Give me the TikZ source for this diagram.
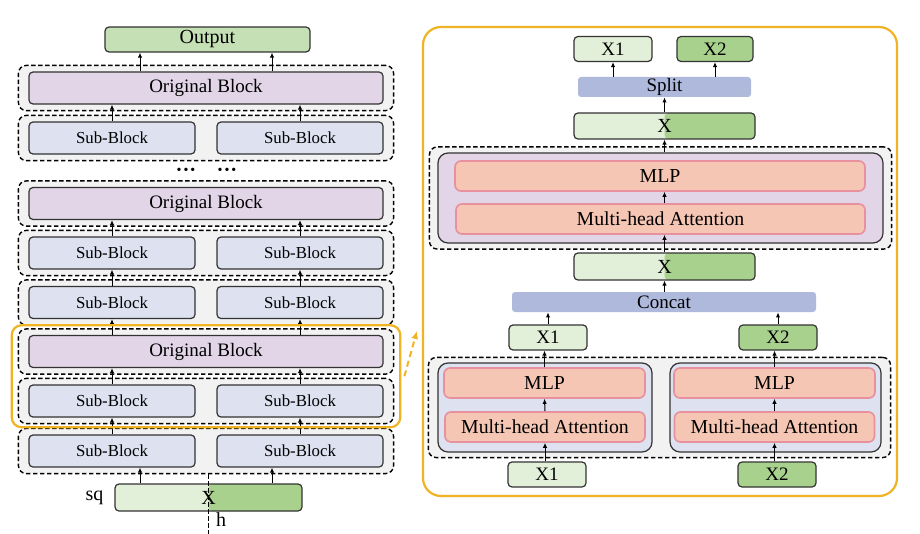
\documentclass[tikz,border=0pt]{standalone}
\usepackage{fontspec}
\setmainfont{Liberation Serif}
\usetikzlibrary{positioning,fit,backgrounds,arrows.meta,calc}

\definecolor{grayF}{HTML}{F2F2F2}
\definecolor{greenO}{HTML}{C5E0B4}
\definecolor{greenL}{HTML}{E2F0D9}
\definecolor{greenD}{HTML}{A9D18E}
\definecolor{blueL}{HTML}{DDE1F0}
\definecolor{purpleL}{HTML}{E1D5E7}
\definecolor{salmon}{HTML}{F5C6B4}
\definecolor{pinkB}{HTML}{E8909E}
\definecolor{barC}{HTML}{AEB9DC}
\definecolor{orng}{HTML}{F0B323}

\tikzset{
  box/.style={draw=black!80, line width=0.6pt, rounded corners=2pt, inner sep=0pt,
    font=\fontsize{9.5}{11}\selectfont},
  outbox/.style={box, fill=greenO, font=\fontsize{10}{12}\selectfont},
  orig/.style={box, fill=purpleL, minimum width=177pt, minimum height=16pt},
  sub/.style={box, fill=blueL, minimum width=83pt, minimum height=16pt,
    font=\fontsize{8.4}{10}\selectfont},
  xl/.style={box, fill=greenL, minimum width=39pt, minimum height=12.5pt},
  xd/.style={box, fill=greenD, minimum width=39pt, minimum height=12.5pt},
  xsplit/.style={box, fill=greenL, font=\fontsize{10}{12}\selectfont,
    path picture={\fill[greenD] (path picture bounding box.north)
      rectangle (path picture bounding box.south east);}},
  bar/.style={fill=barC, rounded corners=1.5pt, inner sep=0pt, minimum height=10pt,
    font=\fontsize{9.5}{11}\selectfont},
  layer/.style={fill=salmon, draw=pinkB, line width=0.8pt, rounded corners=3pt,
    inner sep=0pt, minimum height=15pt, font=\fontsize{9.9}{11}\selectfont},
  holder/.style={draw=black!80, line width=0.6pt, rounded corners=5pt},
  grp/.style={draw, line width=0.7pt, dash pattern=on 2.2pt off 1.3pt, fill=grayF,
    rounded corners=4pt, inner xsep=5pt, inner ysep=3pt},
  arr/.style={line width=0.5pt, -{Latex[length=2.5pt,width=2.2pt]}},
  dotrow/.style={inner sep=0pt, font=\fontsize{7}{8}\selectfont},
  hlbox/.style={draw=orng, line width=1.1pt, rounded corners=5pt, inner xsep=3pt, inner ysep=1.5pt},
  panel/.style={draw=orng, line width=1.1pt, rounded corners=9pt},
  zoomarr/.style={draw=orng, line width=1pt, dash pattern=on 3pt off 2pt,
    -{Latex[length=4pt,width=3.5pt]}}
}

\begin{document}
\begin{tikzpicture}[x=0.5pt, y=-0.5pt]
\useasboundingbox (0,0) rectangle (920,534);

% left: stack of blocks
\node[outbox, minimum width=102.5pt, minimum height=12.5pt] (out) at (207.5,39.5) {Output};
\node[orig] (obA) at (206,88) {Original Block};
\node[sub] (sbBl) at (112,138) {Sub-Block};
\node[sub] (sbBr) at (300,138) {Sub-Block};
\node[dotrow] (dotsl) at (186,171) {•\kern1pt•\kern1pt•};
\node[dotrow] (dotsr) at (227,171) {•\kern1pt•\kern1pt•};
\node[orig] (obC) at (206,203.5) {Original Block};
\node[sub] (sbDl) at (112,253) {Sub-Block};
\node[sub] (sbDr) at (300,253) {Sub-Block};
\node[sub] (sbEl) at (112,302.5) {Sub-Block};
\node[sub] (sbEr) at (300,302.5) {Sub-Block};
\node[orig] (obF) at (206,351.5) {Original Block};
\node[sub] (sbGl) at (112,401) {Sub-Block};
\node[sub] (sbGr) at (300,401) {Sub-Block};
\node[sub] (sbHl) at (112,451) {Sub-Block};
\node[sub] (sbHr) at (300,451) {Sub-Block};
\node[xsplit, minimum width=93.5pt, minimum height=13.5pt] (xin) at (208.5,497.5) {X};
\node[left=2pt of xin, font=\fontsize{10}{12}\selectfont] (sq) {sq};

\coordinate (pl) at (140,0);
\coordinate (pr) at (272,0);

%edges
\draw[arr] (xin.north -| pl) -- (sbHl.south -| pl);
\draw[arr] (xin.north -| pr) -- (sbHr.south -| pr);
\draw[arr] (sbHl.north) -- (sbGl.south);
\draw[arr] (sbHr.north) -- (sbGr.south);
\draw[arr] (sbGl.north) -- (obF.south -| sbGl.north);
\draw[arr] (sbGr.north) -- (obF.south -| sbGr.north);
\draw[arr] (obF.north -| sbEl.south) -- (sbEl.south);
\draw[arr] (obF.north -| sbEr.south) -- (sbEr.south);
\draw[arr] (sbEl.north) -- (sbDl.south);
\draw[arr] (sbEr.north) -- (sbDr.south);
\draw[arr] (sbDl.north) -- (obC.south -| sbDl.north);
\draw[arr] (sbDr.north) -- (obC.south -| sbDr.north);
\draw[arr] (sbBl.north) -- (obA.south -| sbBl.north);
\draw[arr] (sbBr.north) -- (obA.south -| sbBr.north);
\draw[arr] (obA.north -| pl) -- (out.south -| pl);
\draw[arr] (obA.north -| pr) -- (out.south -| pr);

% right: zoomed view
\node[panel, minimum width=237pt, minimum height=234.5pt] (panel) at (660,261.5) {};
\node[xl] (x1t) at (613,49) {X1};
\node[xd, minimum width=38pt] (x2t) at (715,49) {X2};
\node[bar, minimum width=86.5pt] (split) at (664.5,87) {Split};
\node[xsplit, minimum width=90.5pt, minimum height=13pt] (xt) at (664.5,126) {X};
\node[holder, fill=purpleL, minimum width=222.5pt, minimum height=45pt] (ptop) at (660.5,198) {};
\node[layer, minimum width=205pt] (mlpt) at (660,176) {MLP};
\node[layer, minimum width=204.5pt] (mhat) at (660.5,219) {Multi-head Attention};
\node[xsplit, minimum width=90.5pt, minimum height=13.5pt] (xm) at (664.5,266.5) {X};
\node[bar, minimum width=152pt] (concat) at (664,302) {Concat};
\node[xl] (x1m) at (548,337.5) {X1};
\node[xd] (x2m) at (778,337.5) {X2};
\node[holder, fill=blueL, minimum width=107pt, minimum height=44.5pt] (bl) at (545,407.5) {};
\node[holder, fill=blueL, minimum width=105.5pt, minimum height=44.5pt] (br) at (775.5,407.5) {};
\node[layer, minimum width=100.5pt] (mlpl) at (544.5,383) {MLP};
\node[layer, minimum width=100pt] (mhal) at (545,427) {Multi-head Attention};
\node[layer, minimum width=100.5pt] (mlpr) at (774.5,383) {MLP};
\node[layer, minimum width=100pt] (mhar) at (774.5,427) {Multi-head Attention};
\node[xl] (x1b) at (547,474.5) {X1};
\node[xd] (x2b) at (777,474.5) {X2};

\draw[arr] (x1b.north -| mhal.south) -- (mhal.south);
\draw[arr] (x2b.north -| mhar.south) -- (mhar.south);
\draw[arr] (mhal.north) -- (mlpl.south);
\draw[arr] (mhar.north) -- (mlpr.south);
\draw[arr] (mlpl.north) -- (x1m.south -| mlpl.north);
\draw[arr] (mlpr.north) -- (x2m.south -| mlpr.north);
\draw[arr] (x1m.north) -- (concat.south -| x1m.north);
\draw[arr] (x2m.north) -- (concat.south -| x2m.north);
\draw[arr] (concat.north -| xm.north) -- (xm.south);
\draw[arr] (xm.north) -- (mhat.south -| xm.north);
\draw[arr] (mhat.north -| xm.north) -- (mlpt.south -| xm.north);
\draw[arr] (ptop.north -| xt.south) -- (xt.south);
\draw[arr] (xt.north) -- (split.south -| xt.north);
\draw[arr] (split.north -| x1t.south) -- (x1t.south);
\draw[arr] (split.north -| x2t.south) -- (x2t.south);

% dashed groups
\begin{scope}[on background layer]
\node[grp, fit=(obA)] (gA) {};
\node[grp, fit=(sbBl)(sbBr)] (gB) {};
\node[grp, fit=(obC)] (gC) {};
\node[grp, fit=(sbDl)(sbDr)] (gD) {};
\node[grp, fit=(sbEl)(sbEr)] (gE) {};
\node[grp, fit=(obF)] (gF) {};
\node[grp, fit=(sbGl)(sbGr)] (gG) {};
\node[grp, fit=(sbHl)(sbHr)] (gH) {};
\node[grp, fit=(ptop), inner xsep=4pt, inner ysep=2.75pt] (gtop) {};
\node[grp, fit=(bl)(br), inner xsep=4.5pt, inner ysep=2.5pt] (gbot) {};
\end{scope}

\node[hlbox, fit=(gF)(gG)] (hl) {};
\draw[zoomarr] ([xshift=1.5pt]hl.east) -- ([xshift=-2.5pt,yshift=-34.75pt]panel.west);

\draw[line width=0.7pt, dash pattern=on 2.2pt off 1.3pt] (gH.south -| xin.center) -- ++(0,60);
\node (hlab) at (221,520) {\fontsize{10}{12}\selectfont h};
\end{tikzpicture}
\end{document}
